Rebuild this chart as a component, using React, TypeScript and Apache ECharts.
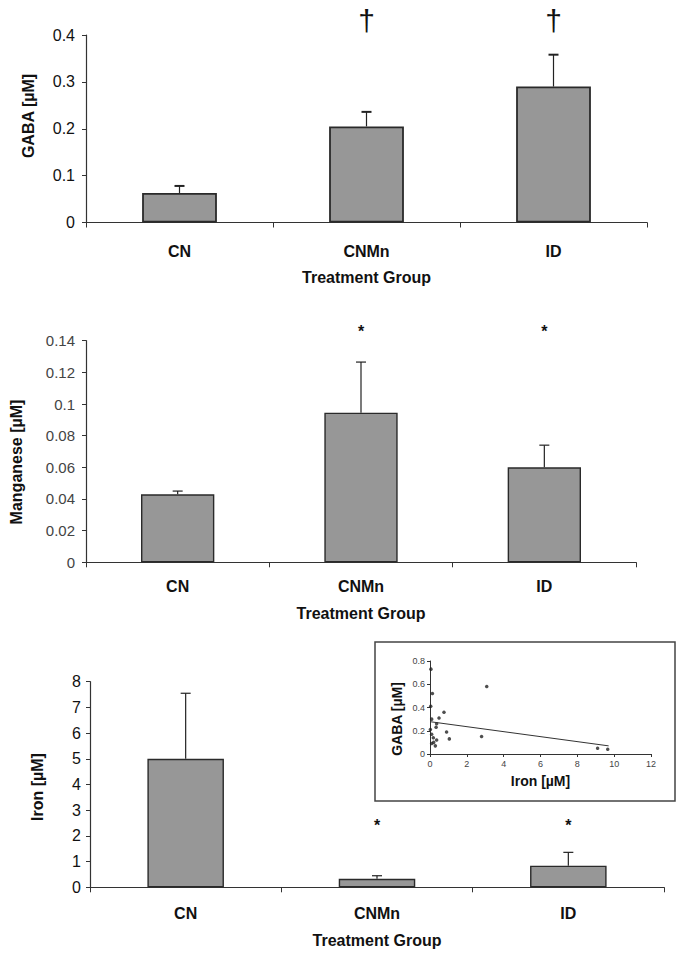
import React, { useEffect, useRef } from "react";
import * as echarts from "echarts";

const categories = ["CN", "CNMn", "ID"];

const gabaMean = [0.063, 0.205, 0.29];
const gabaSem = [0.015, 0.031, 0.068];
const gabaSig = ["", "†", "†"];

const mnMean = [0.043, 0.0945, 0.06];
const mnSem = [0.002, 0.032, 0.014];
const mnSig = ["", "*", "*"];

const ironMean = [5.0, 0.33, 0.84];
const ironSem = [2.55, 0.12, 0.52];
const ironSig = ["", "*", "*"];

// inset scatter: Iron [µM] vs GABA [µM]
const insetIron = [0.05, 0.13, 0.04, 3.08, 0.76, 0.49, 0.09, 0.36, 0.33, 0.9, 0.09, 0.18, 0.36, 1.05, 2.8, 0.09, 0.29, 9.1, 9.65, 0.02, 0.2];
const insetGaba = [0.73, 0.52, 0.41, 0.58, 0.36, 0.31, 0.3, 0.26, 0.23, 0.19, 0.17, 0.14, 0.12, 0.13, 0.15, 0.09, 0.07, 0.05, 0.04, 0.21, 0.1];
const fitIron = [0, 9.7];
const fitGaba = [0.278, 0.07];

const FONT = "'Liberation Sans', Arial, sans-serif";
const TXT = "#111";
const AX = "#333";

function errorSeries(idx: number, mean: number[], sem: number[], capLw: number) {
  return {
    type: "custom",
    xAxisIndex: idx,
    yAxisIndex: idx,
    z: 5,
    clip: false,
    data: mean.map((m, i) => [i, m, m + sem[i]]),
    encode: { x: 0, y: [1, 2] },
    renderItem: (params: any, api: any) => {
      const i = api.value(0);
      const p0 = api.coord([i, api.value(1)]);
      const p1 = api.coord([i, api.value(2)]);
      return {
        type: "group",
        children: [
          { type: "line", shape: { x1: p0[0], y1: p0[1], x2: p1[0], y2: p1[1] }, style: { stroke: "#222", lineWidth: 1.2 } },
          { type: "line", shape: { x1: p1[0] - 5, y1: p1[1], x2: p1[0] + 5, y2: p1[1] }, style: { stroke: "#222", lineWidth: capLw } },
        ],
      };
    },
  };
}

function sigSeries(idx: number, sig: string[], level: number, size: number, weight: string) {
  return {
    type: "custom",
    xAxisIndex: idx,
    yAxisIndex: idx,
    z: 6,
    clip: false,
    data: sig.map((s, i) => (s ? [i, level] : null)).filter((d) => d !== null),
    renderItem: (params: any, api: any) => {
      const i = api.value(0);
      const p = api.coord([i, api.value(1)]);
      return {
        type: "text",
        x: p[0],
        y: p[1],
        style: {
          text: sig[i],
          fontSize: size,
          fontWeight: weight,
          fontFamily: FONT,
          fill: "#111",
          align: "center",
          textAlign: "center",
          verticalAlign: "middle",
          textVerticalAlign: "middle",
        },
      };
    },
  };
}

function barSeries(idx: number, mean: number[], bw: number) {
  return {
    type: "bar",
    xAxisIndex: idx,
    yAxisIndex: idx,
    barWidth: "40%",
    data: mean,
    itemStyle: { color: "#979797", borderColor: "#2a2a2a", borderWidth: bw },
  };
}

function catAxis(idx: number, labelMargin: number, nameGap: number) {
  return {
    type: "category",
    gridIndex: idx,
    data: categories,
    boundaryGap: true,
    axisLine: { lineStyle: { color: AX, width: 1.2 } },
    axisTick: { show: true, length: 5, alignWithLabel: false, lineStyle: { color: AX } },
    axisLabel: { fontSize: 16, fontWeight: "bold", color: TXT, fontFamily: FONT, margin: labelMargin },
    name: "Treatment Group",
    nameLocation: "middle",
    nameGap,
    nameTextStyle: { fontSize: 16, fontWeight: "bold", color: TXT, fontFamily: FONT },
  };
}

function valAxis(idx: number, max: number, interval: number, fontSize: number, color: string, margin: number) {
  return {
    type: "value",
    gridIndex: idx,
    min: 0,
    max,
    interval,
    splitLine: { show: false },
    axisLine: { show: true, lineStyle: { color: AX, width: 1.2 } },
    axisTick: { show: true, length: 4, lineStyle: { color: AX } },
    axisLabel: { fontSize, color, fontFamily: FONT, margin },
  };
}

function yName(text: string, x: number, y: number, size: number) {
  return {
    type: "text",
    x,
    y,
    rotation: Math.PI / 2,
    style: {
      text,
      fontSize: size,
      fontWeight: "bold",
      fontFamily: FONT,
      fill: TXT,
      textAlign: "center",
      textVerticalAlign: "middle",
      align: "center",
      verticalAlign: "middle",
    },
  };
}

export default function App() {
  const ref = useRef<HTMLDivElement>(null);
  useEffect(() => {
    if (!ref.current) return;
    const chart = echarts.init(ref.current, undefined, { renderer: "svg" });
    const option: any = {
      animation: false,
      backgroundColor: "#ffffff",
      grid: [
        { left: 86, top: 35, width: 561, height: 187.5 },
        { left: 86, top: 340.7, width: 550, height: 221.6 },
        { left: 90, top: 681.7, width: 574, height: 205.6 },
        { left: 430, top: 661, width: 221, height: 93 },
      ],
      xAxis: [
        catAxis(0, 21, 47),
        catAxis(1, 16, 43),
        catAxis(2, 18, 45),
        {
          type: "value",
          gridIndex: 3,
          min: 0,
          max: 12,
          interval: 2,
          splitLine: { show: false },
          axisLine: { lineStyle: { color: AX } },
          axisTick: { show: true, length: 3, lineStyle: { color: AX } },
          axisLabel: { fontSize: 9, color: "#444", fontFamily: FONT, margin: 5 },
          name: "Iron [µM]",
          nameLocation: "middle",
          nameGap: 20,
          nameTextStyle: { fontSize: 14, fontWeight: "bold", color: TXT, fontFamily: FONT },
        },
      ],
      yAxis: [
        valAxis(0, 0.4, 0.1, 16, TXT, 11),
        valAxis(1, 0.14, 0.02, 15, "#444", 11),
        valAxis(2, 8, 1, 16, TXT, 9),
        {
          type: "value",
          gridIndex: 3,
          min: 0,
          max: 0.8,
          interval: 0.2,
          splitLine: { show: false },
          axisLine: { show: true, lineStyle: { color: AX } },
          axisTick: { show: true, length: 3, lineStyle: { color: AX } },
          axisLabel: { fontSize: 9, color: "#444", fontFamily: FONT, margin: 5 },
        },
      ],
      graphic: [
        {
          type: "rect",
          z: -1,
          silent: true,
          shape: { x: 375, y: 642, width: 300, height: 159 },
          style: { fill: "#ffffff", stroke: "#444", lineWidth: 1.5 },
        },
        yName("GABA [µM]", 28, 116, 16),
        yName("Manganese [µM]", 16, 462, 16),
        yName("Iron [µM]", 37, 787, 16),
        yName("GABA [µM]", 397, 719, 14),
      ],
      series: [
        barSeries(0, gabaMean, 1.8),
        errorSeries(0, gabaMean, gabaSem, 2),
        sigSeries(0, gabaSig, 0.43, 30, "normal"),
        barSeries(1, mnMean, 1.4),
        errorSeries(1, mnMean, mnSem, 1.2),
        sigSeries(1, mnSig, 0.1457, 16, "bold"),
        barSeries(2, ironMean, 1.4),
        errorSeries(2, ironMean, ironSem, 1.2),
        sigSeries(2, ironSig, 2.42, 16, "bold"),
        {
          type: "scatter",
          xAxisIndex: 3,
          yAxisIndex: 3,
          symbolSize: 3.5,
          itemStyle: { color: "#222" },
          data: insetIron.map((x, i) => [x, insetGaba[i]]),
        },
        {
          type: "line",
          xAxisIndex: 3,
          yAxisIndex: 3,
          symbol: "none",
          lineStyle: { color: "#333", width: 1 },
          data: fitIron.map((x, i) => [x, fitGaba[i]]),
        },
      ],
    };
    chart.setOption(option);
    return () => chart.dispose();
  }, []);
  return <div ref={ref} style={{ position: "absolute", left: 0, top: 0, width: 689, height: 959 }} />;
}
